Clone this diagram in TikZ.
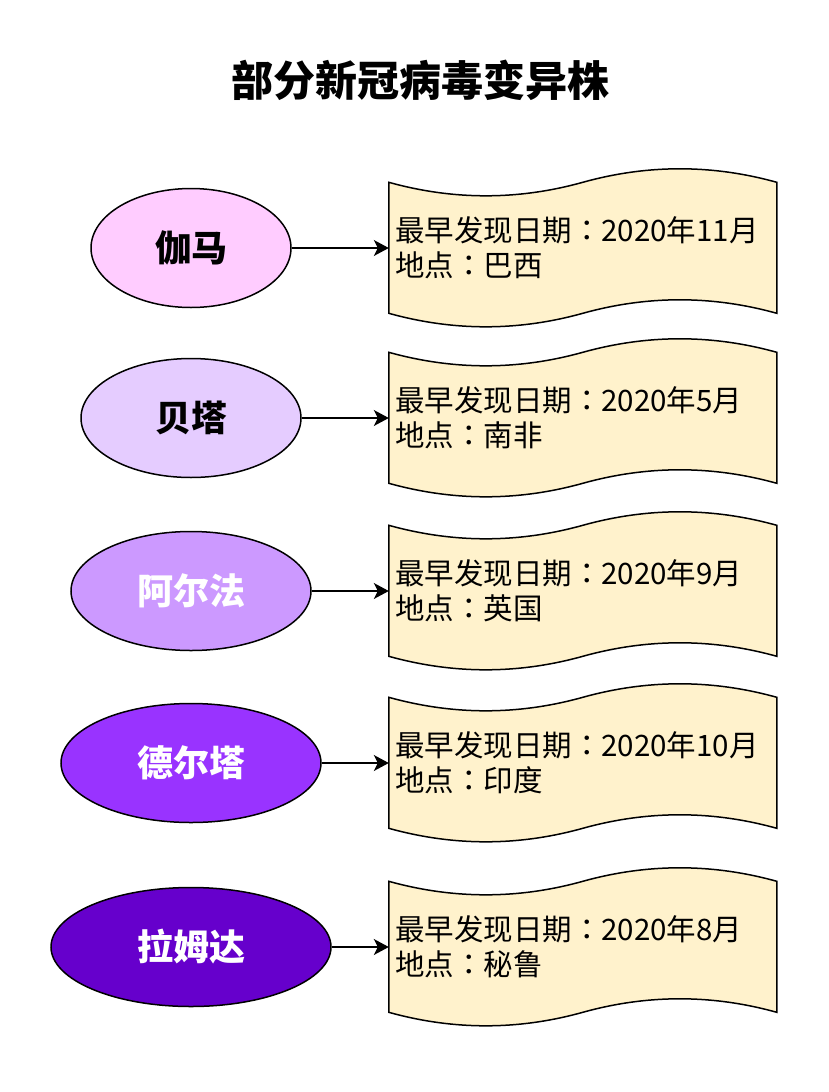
\documentclass[tikz,border=0pt]{standalone}
\usepackage{fontspec}
\usepackage{xcolor}
\usetikzlibrary{shapes.geometric, arrows.meta, positioning, backgrounds}
\newfontfamily\cjk{Noto Sans CJK SC}
\newfontfamily\cjktc{Noto Sans CJK TC}
\newcommand{\zhcolon}{{\cjktc ：}}
\definecolor{gammafill}{HTML}{FFCCFF}
\definecolor{betafill}{HTML}{E5CCFF}
\definecolor{alphafill}{HTML}{CC99FF}
\definecolor{deltafill}{HTML}{9933FF}
\definecolor{lambdafill}{HTML}{6600CC}
\definecolor{notefill}{HTML}{FFF2CC}

% wavy tape outline behind an info node (388 x 161)
\newcommand{\tapeoutline}[1]{%
  \begin{scope}[shift={(#1.north west)}]
    \draw[tapeline] (0,15) .. controls (64.67,33) and (129.33,33) .. (194,15)
      .. controls (258.67,-3) and (323.33,-3) .. (388,15) -- (388,146)
      .. controls (323.33,128) and (258.67,128) .. (194,146)
      .. controls (129.33,164) and (64.67,164) .. (0,146) -- cycle;
  \end{scope}}

\begin{document}
\begin{tikzpicture}[
    x=1pt, y=-1pt,
    variant/.style={ellipse, draw, line width=1.5pt, minimum height=119pt, inner sep=0pt, font=\cjk\bfseries\fontsize{36}{42}\selectfont},
    info/.style={rectangle, minimum width=388pt, minimum height=161pt, text width=376pt, inner xsep=6pt, inner ysep=0pt, align=left, font=\cjk\fontsize{29.5}{35}\selectfont},
    tapeline/.style={draw, line width=1.5pt, fill=notefill},
    arrow/.style={-{Stealth[length=15pt, width=16pt, inset=4pt]}, line width=1.5pt}
]
\useasboundingbox (0,0) rectangle (828,1092);

\node[font=\cjk\bfseries\fontsize{42}{50}\selectfont] (title) at (420,80) {部分新冠病毒变异株};

\node[variant, minimum width=200pt, fill=gammafill] (gamma) at (191,248) {伽马};
\node[variant, minimum width=220pt, fill=betafill] (beta) at (191,418) {贝塔};
\node[variant, minimum width=240pt, fill=alphafill, text=white] (alpha) at (191,591) {阿尔法};
\node[variant, minimum width=260pt, fill=deltafill, text=white] (delta) at (191,763) {德尔塔};
\node[variant, minimum width=280pt, fill=lambdafill, text=white] (lambda) at (191,947) {拉姆达};

\node[info] (info1) at (583,248) {最早发现日期\zhcolon 2020年11月\\地点\zhcolon 巴西};
\node[info] (info2) at (583,418) {最早发现日期\zhcolon 2020年5月\\地点\zhcolon 南非};
\node[info] (info3) at (583,591) {最早发现日期\zhcolon 2020年9月\\地点\zhcolon 英国};
\node[info] (info4) at (583,763) {最早发现日期\zhcolon 2020年10月\\地点\zhcolon 印度};
\node[info] (info5) at (583,947) {最早发现日期\zhcolon 2020年8月\\地点\zhcolon 秘鲁};

\begin{scope}[on background layer]
\tapeoutline{info1}
\tapeoutline{info2}
\tapeoutline{info3}
\tapeoutline{info4}
\tapeoutline{info5}
\end{scope}

\draw[arrow] (gamma) -- (info1);
\draw[arrow] (beta) -- (info2);
\draw[arrow] (alpha) -- (info3);
\draw[arrow] (delta) -- (info4);
\draw[arrow] (lambda) -- (info5);

\end{tikzpicture}
\end{document}
